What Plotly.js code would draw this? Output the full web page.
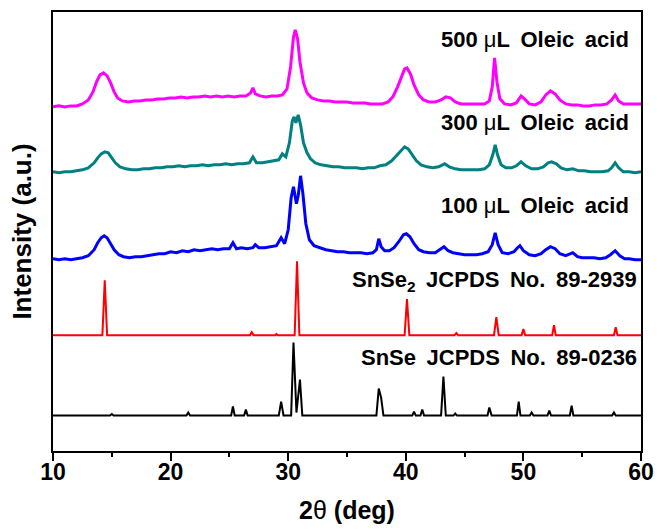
<!DOCTYPE html>
<html>
<head>
<meta charset="utf-8">
<script src="https://cdn.plot.ly/plotly-3.0.1.min.js"></script>
<style>html,body{margin:0;padding:0;background:#fff;}#chart{width:658px;height:531px;}</style>
</head>
<body>
<div id="chart"></div>
<script>
// ---------- DATA (2θ in degrees, intensity in arbitrary units above each baseline) ----------
const seriesNames = ["SnSe JCPDS No. 89-0236", "SnSe2 JCPDS No. 89-2939", "100 μL Oleic acid", "300 μL Oleic acid", "500 μL Oleic acid"];
const seriesOffsets = [35.5, 116, 191.5, 278.5, 344.5];

const snseX = [10,14.85,15.0,15.15,21.35,21.5,21.65,25.15,25.3,25.45,26.25,26.4,26.55,29.2,29.4,29.6,30.25,30.45,30.7,31.0,31.2,37.5,37.7,37.9,38.1,40.55,40.7,40.85,41.25,41.4,41.55,43.0,43.2,43.4,44.05,44.2,44.35,46.95,47.1,47.3,49.45,49.6,49.75,50.55,50.7,50.85,52.05,52.2,52.35,53.95,54.1,54.25,57.55,57.7,57.85,60];
const snseY = [0,0,1.5,0,0,3,0,0,9,0,0,6,0,0,14,0,0,73,3,36,0,0,27,18,0,0,4,0,0,6,0,0,39,0,0,2,0,0,8,0,0,14,0,0,3,0,0,5,0,0,10,0,0,3,0,0];

const snse2X = [10,14.2,14.4,14.6,26.75,26.9,27.05,28.9,29.0,29.1,30.55,30.75,30.95,39.9,40.1,40.3,44.15,44.3,44.45,47.5,47.7,47.9,49.85,50.0,50.15,52.45,52.6,52.75,57.7,57.85,58.0,60];
const snse2Y = [0,0,55,0,0,3,0,0,1,0,0,74,0,0,36,0,0,2,0,0,18,0,0,6,0,0,10,0,0,8,0,0];

const oa100X = [10,10.5,11,11.5,12,12.5,13,13.5,13.8,14.1,14.35,14.6,14.9,15.2,15.6,16,16.5,17,17.5,18,18.5,19,19.5,20,20.5,21,21.5,22,22.5,23,23.5,24,24.5,25,25.3,25.6,26,26.5,27,27.2,27.5,28,28.5,29,29.4,29.7,30.0,30.25,30.45,30.7,30.85,31.05,31.25,31.5,31.8,32.2,32.7,33.2,33.7,34.2,34.7,35.2,35.7,36.2,36.7,37.2,37.5,37.7,37.9,38.2,38.6,39,39.4,39.8,40.05,40.35,40.7,41.1,41.5,42,42.5,42.9,43.25,43.6,44,44.5,45,45.5,46,46.5,47,47.35,47.6,47.85,48.2,48.7,49.2,49.5,49.7,50,50.5,51,51.5,51.9,52.3,52.7,53.1,53.6,54.2,54.6,55,55.5,56,56.5,57,57.4,57.8,58.2,58.6,59,59.5,60];
const oa100Y = [1,0,1,0,1,2,4,10,17,22,24,22,16,10,5,3,2,3,3,4,5,6,6,8,7,9,8,10,9,10,11,10,11,11,17,11,12,11,12,15,12,12,13,14,22,16,30,62,73,56,64,84,66,36,20,14,12,10,9,8,8,7,7,7,6,7,10,21,13,9,9,12,18,25,26,23,16,10,8,7,7,10,13,9,7,6,5,5,5,6,8,15,27,15,7,6,8,12,14,9,5,4,6,10,13,11,6,4,7,3,2,2,2,1,2,5,9,4,1,1,0,0];

const oa300X = [10,10.5,11,11.5,12,12.5,13,13.5,13.8,14.1,14.4,14.7,15,15.3,15.7,16.2,16.7,17.2,17.7,18.2,18.7,19.2,19.7,20.2,20.7,21.2,21.7,22.2,22.7,23.2,23.7,24.2,24.7,25.2,25.7,26.2,26.7,27.0,27.3,27.8,28.3,28.8,29.2,29.5,29.8,30.1,30.35,30.5,30.65,30.85,31.05,31.3,31.6,31.9,32.3,32.8,33.3,33.8,34.3,34.8,35.3,35.8,36.3,36.8,37.3,37.8,38.3,38.8,39.2,39.6,39.9,40.2,40.5,40.9,41.3,41.8,42.3,42.8,43.3,43.7,44.2,44.7,45.2,45.7,46.2,46.7,47.1,47.4,47.6,47.8,48.1,48.5,49,49.4,49.8,50.2,50.7,51.2,51.7,52.1,52.4,52.8,53.2,53.7,54.2,54.7,55.2,55.7,56.2,56.7,57.2,57.5,57.8,58.1,58.5,59,59.5,60];
const oa300Y = [1,0,1,1,2,3,5,10,15,19,21,20,15,10,6,4,3,3,4,4,5,5,6,6,7,6,7,7,8,7,8,8,9,8,9,9,10,16,10,10,11,12,13,19,16,30,52,56,50,58,48,30,20,14,10,8,7,6,6,5,5,5,4,5,5,7,8,12,17,22,26,24,19,12,8,6,5,6,9,6,4,3,3,3,3,4,8,18,28,18,8,5,5,7,11,7,4,4,6,10,11,9,5,3,4,2,2,1,1,1,2,5,10,5,1,1,0,1];

const oa500X = [10,10.5,11,11.5,12,12.5,13,13.4,13.7,14.0,14.3,14.6,14.9,15.2,15.5,15.9,16.4,16.9,17.4,17.9,18.4,18.9,19.4,19.9,20.4,20.9,21.4,21.9,22.4,22.9,23.4,23.9,24.4,24.9,25.4,25.9,26.4,26.8,27.0,27.2,27.6,28.1,28.6,29.1,29.5,29.9,30.2,30.45,30.6,30.8,31.0,31.3,31.6,32,32.5,33,33.5,34,34.5,35,35.5,36,36.5,37,37.5,38,38.5,38.9,39.3,39.6,39.9,40.1,40.4,40.7,41.1,41.5,42,42.5,43,43.4,43.8,44.2,44.7,45.2,45.7,46.2,46.7,47.1,47.35,47.55,47.75,48,48.4,48.9,49.4,49.8,50.1,50.5,51,51.5,51.9,52.3,52.7,53.1,53.6,54.1,54.6,55.1,55.6,56.1,56.6,57.1,57.5,57.8,58.1,58.5,59,59.5,60];
const oa500Y = [0,1,0,1,1,3,7,15,25,32,34,31,24,15,9,6,5,6,6,7,7,8,8,9,9,10,9,10,10,11,10,11,10,11,10,11,11,14,19,13,11,10,11,11,12,18,40,70,77,68,45,24,14,9,7,6,6,5,5,5,4,4,4,3,3,3,5,10,20,30,38,39,33,22,12,7,5,5,7,10,9,5,3,3,3,3,3,6,20,49,25,8,3,2,4,11,8,3,2,5,12,16,13,7,3,2,2,1,1,2,2,3,7,12,6,3,3,3,3];

const xTickVals = [10,20,30,40,50,60];
const xTickText = ["10","20","30","40","50","60"];

// ---------- STYLE ----------
const FONT = "Liberation Sans, Arial, sans-serif";
const colors = ["#000000", "#FF0000", "#0000FF", "#008080", "#FF00FF"];
const widths = [2, 2, 3, 3, 3];
const xs = [snseX, snse2X, oa100X, oa300X, oa500X];
const ys = [snseY, snse2Y, oa100Y, oa300Y, oa500Y];

const traces = xs.map((x, i) => ({
  x: x,
  y: ys[i].map(v => v + seriesOffsets[i]),
  type: "scatter",
  mode: "lines",
  name: seriesNames[i],
  line: {color: colors[i], width: widths[i]},
  hoverinfo: "skip"
}));

const mu = '<span style="font-weight:normal">μ</span>';
const labelFont = {family: FONT, size: 22, color: "#000", weight: 700};
const annotations = [
  {text: "500 " + mu + "L\u2009 Oleic\u2009 acid", y: 411.5, xr: 59.15},
  {text: "300 " + mu + "L\u2009 Oleic\u2009 acid", y: 328.5, xr: 59.15},
  {text: "100 " + mu + "L\u2009 Oleic\u2009 acid", y: 245.5, xr: 59.15},
  {text: "SnSe<sub>2</sub>\u2009 JCPDS\u2009 No.\u2009 89-2939", y: 170, xr: 59.8},
  {text: "SnSe\u2009 JCPDS\u2009 No.\u2009 89-0236", y: 94, xr: 59.8}
].map(a => ({
  text: a.text, x: a.xr, y: a.y, xref: "x", yref: "y",
  xanchor: "right", yanchor: "middle", showarrow: false, font: labelFont
}));

const layout = {
  width: 658, height: 531,
  margin: {l: 53, r: 17, t: 12, b: 80},
  paper_bgcolor: "#fff", plot_bgcolor: "#fff",
  showlegend: false,
  xaxis: {
    range: [10, 60],
    tickmode: "array", tickvals: xTickVals, ticktext: xTickText,
    ticks: "outside", ticklen: 8, tickwidth: 2, tickcolor: "#000",
    ticklabelstandoff: -9,
    minor: {dtick: 5, tick0: 10, ticks: "outside", ticklen: 4, tickwidth: 2, tickcolor: "#000", showgrid: false},
    showline: true, linewidth: 2, linecolor: "#000", mirror: true,
    showgrid: false, zeroline: false,
    tickfont: {family: FONT, size: 23, color: "#000", weight: 700},
    title: {text: '2<span style="font-weight:normal">θ</span> (deg)', font: {family: FONT, size: 25, color: "#000", weight: 700}, standoff: 18}
  },
  yaxis: {
    range: [0, 439.5],
    showticklabels: false, ticks: "",
    showline: true, linewidth: 2, linecolor: "#000", mirror: true,
    showgrid: false, zeroline: false,
    title: {text: "Intensity (a.u.)", font: {family: FONT, size: 26, color: "#000", weight: 700}, standoff: 12}
  },
  annotations: annotations
};

Plotly.newPlot("chart", traces, layout, {displayModeBar: false, staticPlot: true});
</script>
</body>
</html>
